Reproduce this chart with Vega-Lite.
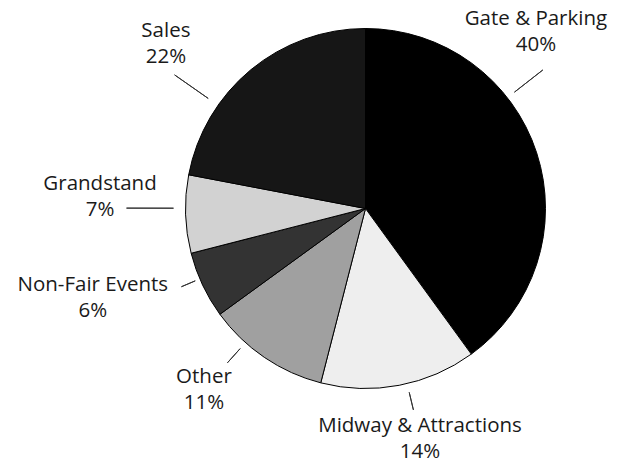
{
  "$schema": "https://vega.github.io/schema/vega-lite/v6.json",
  "autosize": {"type": "none"},
  "padding": {"left": 107, "top": 0, "right": 0, "bottom": 46},
  "width": 517,
  "height": 417,
  "background": "white",
  "config": {"view": {"stroke": null}, "text": {"font": "Open Sans", "fontSize": 20.5, "fill": "#1a1a1a"}},
  "data": {"values": [
    {"label": "Gate & Parking", "share": 0.40, "order": 1},
    {"label": "Midway & Attractions", "share": 0.14, "order": 2},
    {"label": "Other", "share": 0.11, "order": 3},
    {"label": "Non-Fair Events", "share": 0.06, "order": 4},
    {"label": "Grandstand", "share": 0.07, "order": 5},
    {"label": "Sales", "share": 0.22, "order": 6}
  ]},
  "encoding": {
    "theta": {"field": "share", "type": "quantitative", "stack": true},
    "order": {"field": "order", "type": "quantitative"},
    "detail": {"field": "label", "type": "nominal"}
  },
  "layer": [
    {
      "mark": {"type": "arc", "outerRadius": 180, "stroke": "#000", "strokeWidth": 1},
      "encoding": {
        "color": {"field": "label", "type": "nominal", "legend": null,
          "scale": {"domain": ["Gate & Parking", "Midway & Attractions", "Other", "Non-Fair Events", "Grandstand", "Sales"],
                    "range": ["#000000", "#eeeeee", "#a0a0a0", "#333333", "#d2d2d2", "#161616"]}}
      }
    },
    {"mark": {"type": "arc", "padAngle": 3, "outerRadius": 225, "innerRadius": 189, "thetaOffset": -0.349, "theta2Offset": -0.349, "fillOpacity": 0, "stroke": "#333", "strokeWidth": 1},
     "encoding": {"strokeOpacity": {"condition": {"test": "datum.label === 'Gate & Parking'", "value": 1}, "value": 0}}},
    {"mark": {"type": "arc", "padAngle": 3, "outerRadius": 207, "innerRadius": 189, "thetaOffset": -0.045, "theta2Offset": -0.045, "fillOpacity": 0, "stroke": "#333", "strokeWidth": 1},
     "encoding": {"strokeOpacity": {"condition": {"test": "datum.label === 'Midway & Attractions'", "value": 1}, "value": 0}}},
    {"mark": {"type": "arc", "padAngle": 3, "outerRadius": 207, "innerRadius": 188, "thetaOffset": 0.133, "theta2Offset": 0.133, "fillOpacity": 0, "stroke": "#333", "strokeWidth": 1},
     "encoding": {"strokeOpacity": {"condition": {"test": "datum.label === 'Other'", "value": 1}, "value": 0}}},
    {"mark": {"type": "arc", "padAngle": 3, "outerRadius": 200, "innerRadius": 185, "thetaOffset": 0.038, "theta2Offset": 0.038, "fillOpacity": 0, "stroke": "#333", "strokeWidth": 1},
     "encoding": {"strokeOpacity": {"condition": {"test": "datum.label === 'Non-Fair Events'", "value": 1}, "value": 0}}},
    {"mark": {"type": "arc", "padAngle": 3, "outerRadius": 239, "innerRadius": 192, "thetaOffset": 0.033, "theta2Offset": 0.033, "fillOpacity": 0, "stroke": "#333", "strokeWidth": 1},
     "encoding": {"strokeOpacity": {"condition": {"test": "datum.label === 'Grandstand'", "value": 1}, "value": 0}}},
    {"mark": {"type": "arc", "padAngle": 3, "outerRadius": 233, "innerRadius": 192, "thetaOffset": -0.269, "theta2Offset": -0.269, "fillOpacity": 0, "stroke": "#333", "strokeWidth": 1},
     "encoding": {"strokeOpacity": {"condition": {"test": "datum.label === 'Sales'", "value": 1}, "value": 0}}},

    {"mark": {"type": "text", "radius": 245.4, "thetaOffset": -0.489, "dy": -13},
     "encoding": {"text": {"condition": {"test": "datum.label === 'Gate & Parking'", "field": "label", "type": "nominal"}, "value": ""}}},
    {"mark": {"type": "text", "radius": 245.4, "thetaOffset": -0.489, "dy": 13},
     "encoding": {"text": {"condition": {"test": "datum.label === 'Gate & Parking'", "field": "share", "type": "quantitative", "format": ".0%"}, "value": ""}}},

    {"mark": {"type": "text", "radius": 236.9, "thetaOffset": -0.0436, "dy": -13},
     "encoding": {"text": {"condition": {"test": "datum.label === 'Midway & Attractions'", "field": "label", "type": "nominal"}, "value": ""}}},
    {"mark": {"type": "text", "radius": 236.9, "thetaOffset": -0.0436, "dy": 13},
     "encoding": {"text": {"condition": {"test": "datum.label === 'Midway & Attractions'", "field": "share", "type": "quantitative", "format": ".0%"}, "value": ""}}},

    {"mark": {"type": "text", "radius": 242.7, "thetaOffset": 0.1313, "dy": -13},
     "encoding": {"text": {"condition": {"test": "datum.label === 'Other'", "field": "label", "type": "nominal"}, "value": ""}}},
    {"mark": {"type": "text", "radius": 242.7, "thetaOffset": 0.1313, "dy": 13},
     "encoding": {"text": {"condition": {"test": "datum.label === 'Other'", "field": "share", "type": "quantitative", "format": ".0%"}, "value": ""}}},

    {"mark": {"type": "text", "radius": 287.1, "thetaOffset": 0.1218, "dy": -13},
     "encoding": {"text": {"condition": {"test": "datum.label === 'Non-Fair Events'", "field": "label", "type": "nominal"}, "value": ""}}},
    {"mark": {"type": "text", "radius": 287.1, "thetaOffset": 0.1218, "dy": 13},
     "encoding": {"text": {"condition": {"test": "datum.label === 'Non-Fair Events'", "field": "share", "type": "quantitative", "format": ".0%"}, "value": ""}}},

    {"mark": {"type": "text", "radius": 265.7, "thetaOffset": 0.0747, "dy": -13},
     "encoding": {"text": {"condition": {"test": "datum.label === 'Grandstand'", "field": "label", "type": "nominal"}, "value": ""}}},
    {"mark": {"type": "text", "radius": 265.7, "thetaOffset": 0.0747, "dy": 13},
     "encoding": {"text": {"condition": {"test": "datum.label === 'Grandstand'", "field": "share", "type": "quantitative", "format": ".0%"}, "value": ""}}},

    {"mark": {"type": "text", "radius": 258.7, "thetaOffset": -0.190, "dy": -13},
     "encoding": {"text": {"condition": {"test": "datum.label === 'Sales'", "field": "label", "type": "nominal"}, "value": ""}}},
    {"mark": {"type": "text", "radius": 258.7, "thetaOffset": -0.190, "dy": 13},
     "encoding": {"text": {"condition": {"test": "datum.label === 'Sales'", "field": "share", "type": "quantitative", "format": ".0%"}, "value": ""}}}
  ]
}
